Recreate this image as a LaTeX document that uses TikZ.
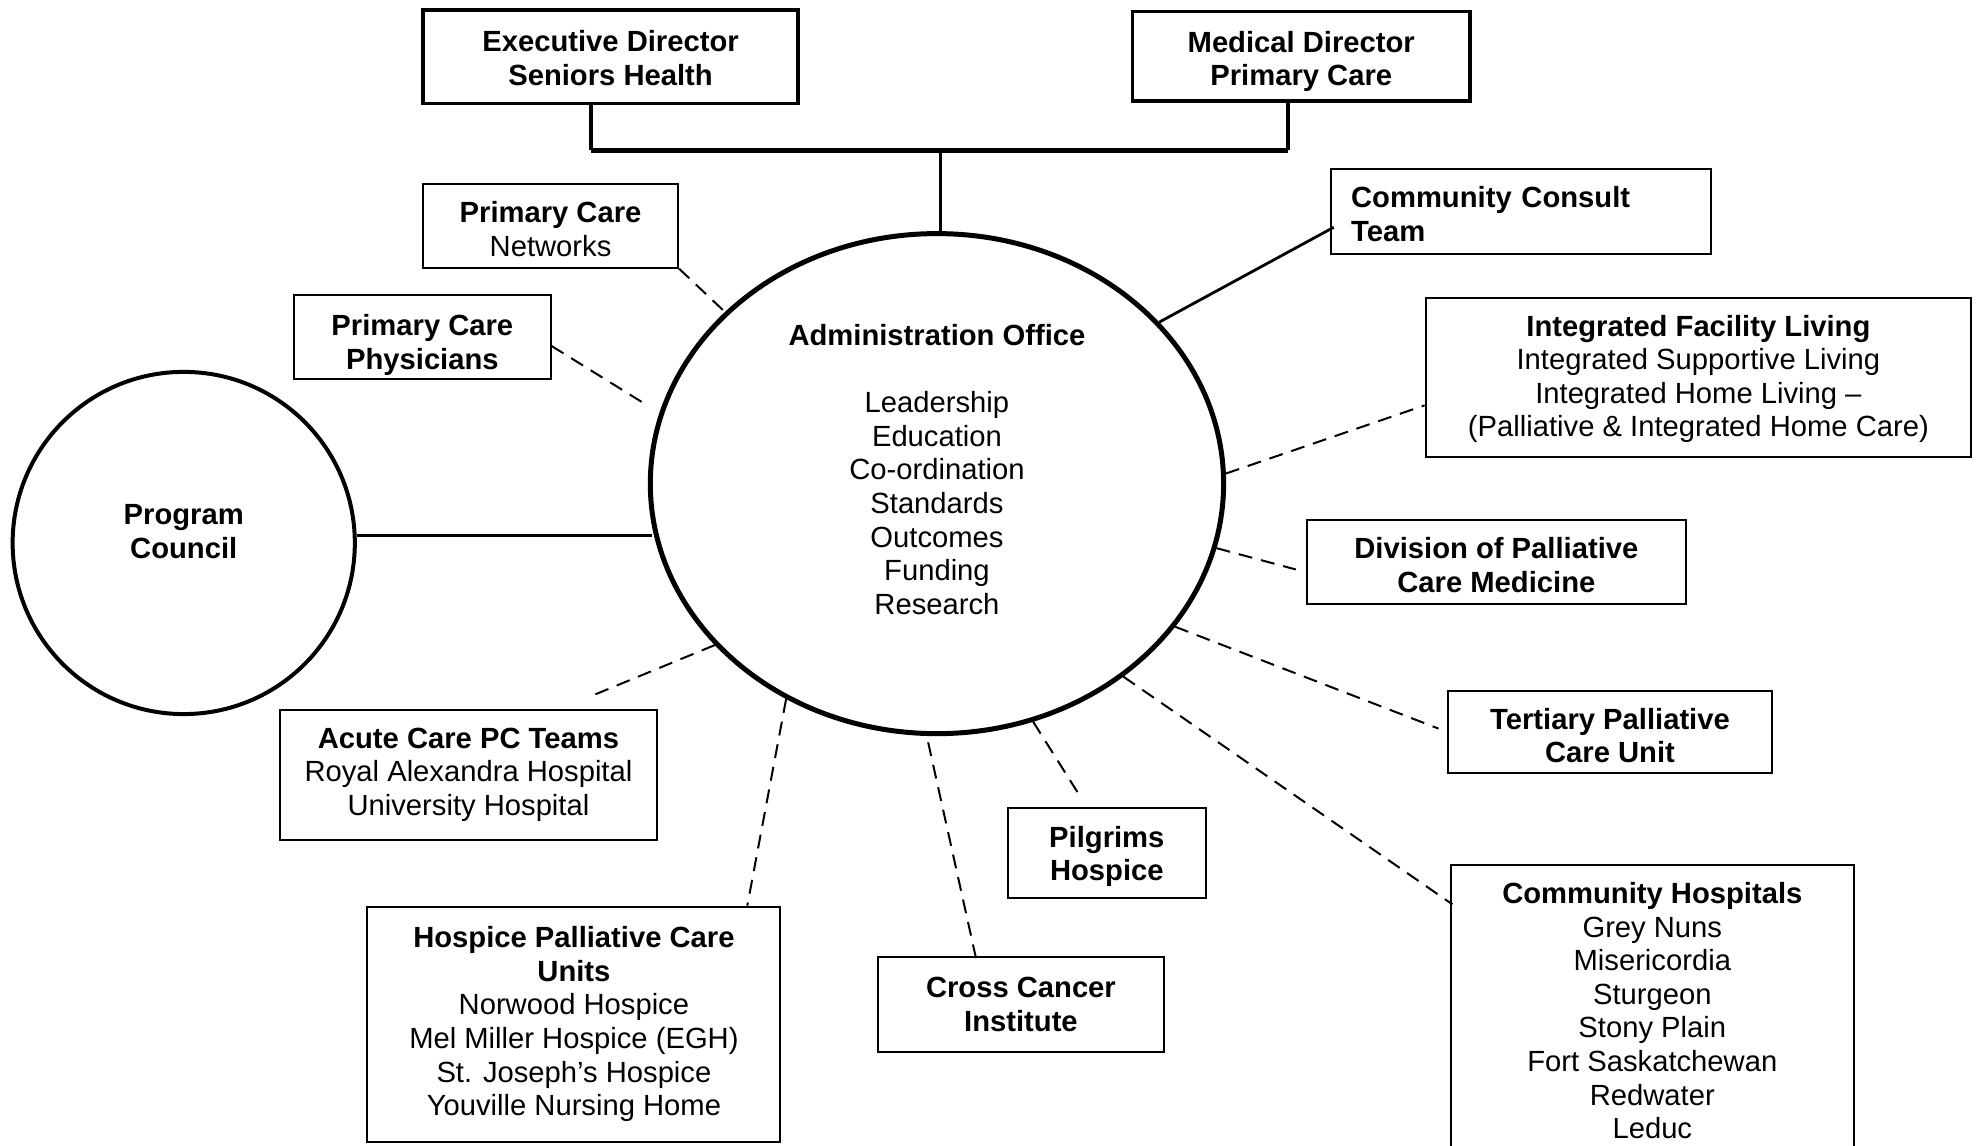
\documentclass[tikz,border=0pt]{standalone}
\usepackage{fontspec}
\setmainfont{Liberation Sans}
\usetikzlibrary{shapes.geometric,calc}
\newlength\px
\setlength\px{0.6314pt}
\newcommand\tup[1]{\rule{0pt}{#1}}
\begin{document}
\begin{tikzpicture}[x=0.6314pt,y=-0.6314pt,
  every node/.style={font={\fontsize{14.6}{16.8}\selectfont}, align=center, inner sep=0pt},
  box/.style={draw, line width=1pt},
  topbox/.style={draw, line width=1.7pt},
  dashlink/.style={line width=1pt, dash pattern=on 7pt off 4.5pt},
  solidlink/.style={line width=1.4pt},
  vlink/.style={line width=1.6pt},
  hlink/.style={line width=2.6pt}]
\useasboundingbox (0,0) rectangle (1568,907);
\clip (0,0) rectangle (1568,907);

% top boxes
\node[topbox, minimum width=297*\px, minimum height=74*\px] (exec) at (483.5,45)
  {\tup{12pt}\textbf{Executive Director}\\\textbf{Seniors Health}};
\node[topbox, minimum width=267*\px, minimum height=71*\px] (med) at (1030.5,44.5)
  {\tup{15.8pt}\textbf{Medical Director}\\\textbf{Primary Care}};

% central ellipse
\node[draw, ellipse, line width=2.5pt, minimum width=454*\px, minimum height=396*\px] (admin) at (742,383) {};
\node[anchor=north] (admintext) at (742,256.5)
  {\textbf{Administration Office}\\[16.8pt]Leadership\\Education\\Co-ordination\\Standards\\Outcomes\\Funding\\Research};

% program council
\node[draw, circle, line width=2pt, minimum size=271*\px] (pcouncil) at (145.5,430) {};
\node (pctext) at (145.5,421) {\textbf{Program}\\\textbf{Council}};

% left boxes
\node[box, minimum width=202*\px, minimum height=66*\px] (pcn) at (436,179)
  {\tup{13.9pt}\textbf{Primary Care}\\Networks};
\node[box, minimum width=203*\px, minimum height=66*\px] (pcp) at (334.5,267)
  {\tup{18.3pt}\textbf{Primary Care}\\\textbf{Physicians}};
\node[box, minimum width=298*\px, minimum height=103*\px] (acu) at (371,613.5)
  {\textbf{Acute Care PC Teams}\\Royal Alexandra Hospital\\University Hospital};
\node[box, minimum width=327*\px, minimum height=186*\px] (hpc) at (454.5,811)
  {\textbf{Hospice Palliative Care}\\\textbf{Units}\\Norwood Hospice\\Mel Miller Hospice (EGH)\\St. Joseph’s Hospice\\Youville Nursing Home};

% bottom boxes
\node[box, minimum width=227*\px, minimum height=75*\px] (cci) at (808.5,795.5)
  {\textbf{Cross Cancer}\\\textbf{Institute}};
\node[box, minimum width=157*\px, minimum height=71*\px] (pil) at (876.5,675.5)
  {\tup{13.9pt}\textbf{Pilgrims}\\\textbf{Hospice}};

% right boxes
\node[box, text width=269*\px, align=left, inner xsep=16*\px, minimum height=67*\px] (cct) at (1204.5,167.5)
  {\tup{13.2pt}\textbf{Community Consult}\\\textbf{Team}};
\node[box, minimum width=432*\px, minimum height=126*\px] (ifl) at (1345,299)
  {\tup{12pt}\textbf{Integrated Facility Living}\\Integrated Supportive Living\\Integrated Home Living –\\(Palliative \& Integrated Home Care)};
\node[box, minimum width=300*\px, minimum height=66*\px] (div) at (1185,445)
  {\tup{13.9pt}\textbf{Division of Palliative}\\\textbf{Care Medicine}};
\node[box, minimum width=256*\px, minimum height=65*\px] (tpc) at (1275,579.5)
  {\tup{14.5pt}\textbf{Tertiary Palliative}\\\textbf{Care Unit}};
\node[box, minimum width=319*\px, minimum height=280*\px] (ch) at (1308.5,825) {};
\node[anchor=north] (chtext) at (1308.5,698.5)
  {\textbf{Community Hospitals}\\Grey Nuns\\Misericordia\\Sturgeon\\Stony Plain\\Fort Saskatchewan\\Redwater\\Leduc};

% top connector
\coordinate (jl) at (468,119);
\coordinate (jr) at (1020,119);
\coordinate (jc) at (745,119);
\draw[vlink] (jl |- exec.south) -- (jl);
\draw[vlink] (jr |- med.south) -- (jr);
\draw[hlink] (jl) -- (jr);
\draw[vlink] (jc) -- (jc |- admin.north);

% solid links
\draw[solidlink] ($(pcouncil.east)+(0,-6)$) -- ($(admin.west)+(3,41)$);
\draw[solidlink] (admin.36) -- ($(cct.west)+(3,12.5)$);

% dashed links
\draw[dashlink] (pcn.south east) -- (admin.141);
\draw[dashlink] ($(pcp.east)+(0,7)$) -- ($(admin.165)+(-10,-3)$);
\draw[dashlink] (admin.2) -- ($(ifl.west)+(0,22)$);
\draw[dashlink] (admin.-13) -- ($(div.west)+(-8,6)$);
\draw[dashlink] (admin.-31) -- ($(tpc.west)+(-7,-2.5)$);
\draw[dashlink] (admin.-46.3) -- ($(ch.north west)+(2,32)$);
\draw[dashlink] (admin.-68) -- ($(pil.north)+(-19.5,-6)$);
\draw[dashlink] ($(admin.-92)+(0,5)$) -- ($(cci.north)+(-35.5,2)$);
\draw[dashlink] (admin.-125) -- ($(hpc.north east)+(-27,0)$);
\draw[dashlink] (admin.-144.3) -- ($(acu.north east)+(-55,-9)$);
\end{tikzpicture}
\end{document}
